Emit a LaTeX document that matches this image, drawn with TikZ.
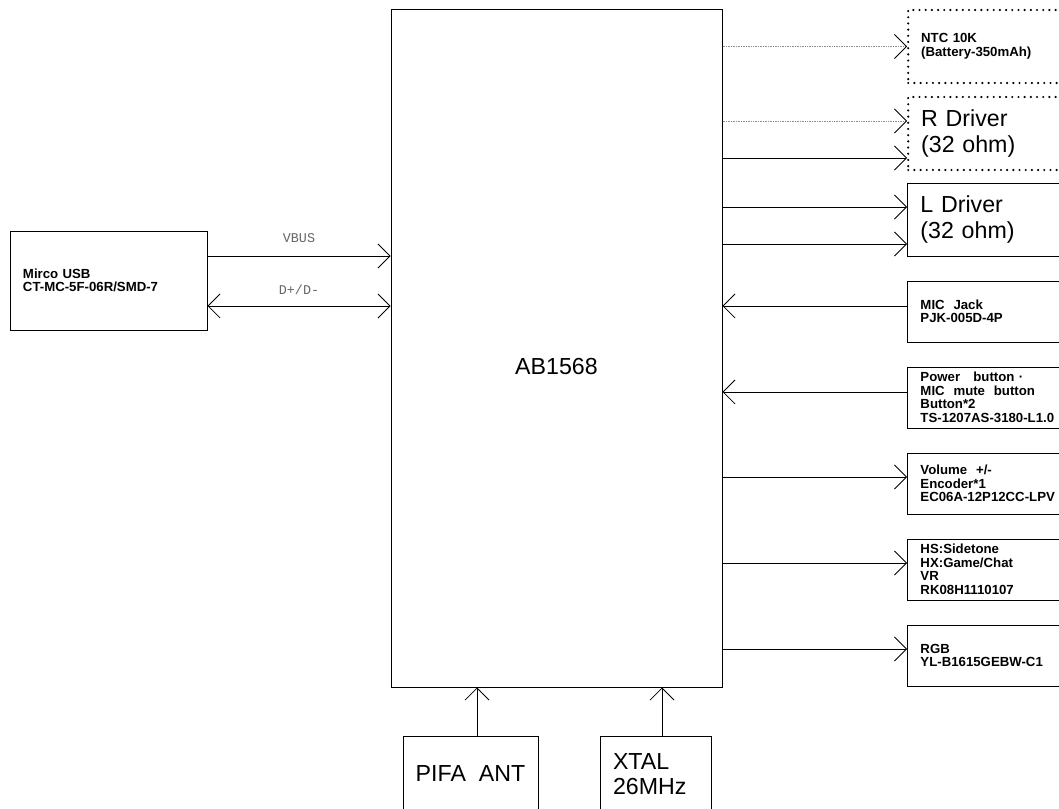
\documentclass[tikz,border=0pt]{standalone}
\usepackage{fontspec}
\setmainfont{Liberation Sans}
\setmonofont{Liberation Mono}
\usetikzlibrary{positioning,arrows.meta,calc}

\begin{document}
\begin{tikzpicture}[x=0.25mm,y=-0.25mm,
  openV/.tip={Straight Barb[length=3mm,width=6mm,line width=.6pt,color=black]},
  box/.style={draw=black,line width=.7pt,fill=white,inner sep=0pt},
  dotbox/.style={line width=1.7pt,dash pattern=on 0pt off 4.4pt,line cap=round},
  rbox/.style={box,anchor=west,align=left,text width=34.5mm,inner xsep=3.25mm,minimum height=15.25mm,
    font=\bfseries\fontsize{9.4}{9.6}\selectfont},
  big/.style={font=\fontsize{16.5}{17.8}\selectfont},
  arr/.style={arrows={-openV},line width=.7pt,draw=black},
  darr/.style={arrows={openV-openV},line width=.7pt,draw=black},
  dotarr/.style={arr,draw=black!45,line width=.5pt,dash pattern=on .6pt off .6pt},
  mono/.style={font=\ttfamily\fontsize{9.5}{11}\selectfont,text=black!60,inner sep=0pt}]
\useasboundingbox (0,0) rectangle (1059,809);
\clip (0,0) rectangle (1059,809);
\fill[white] (0,0) rectangle (1059,809);
\node[box,minimum width=49.25mm,minimum height=24.75mm,align=left,text width=42.75mm,inner xsep=3.25mm,
  font=\bfseries\fontsize{9.4}{8.8}\selectfont] (usb) at (108.5,280.5) {Mirco USB\\CT-MC-5F-06R/SMD-7};
\node[box,minimum width=82.75mm,minimum height=169.25mm,
  label={[big,yshift=-4.6mm]center:AB1568}] (chip) at (556.5,348.5) {};
\node[rbox,dotbox,minimum height=18.25mm] (ntc) at (907,46.5) {NTC 10K\\(Battery-350mAh)};
\node[rbox,dotbox,big,minimum height=18.25mm] (rdrv) at (907,133.5) {R Driver\\(32 ohm)};
\node[rbox,big,minimum height=18.25mm] (ldrv) at (907,219.5) {L Driver\\(32 ohm)};
\node[rbox] (mic) at (907,311.5) {MIC\ \ Jack\\PJK-005D-4P};
\node[rbox] (pwr) at (907,397.5) {Power\quad button ·\\MIC\ \ mute\ \ button\\Button*2\\TS-1207AS-3180-L1.0};
\node[rbox] (vol) at (907,483.5) {Volume\ \ +/-\\Encoder*1\\EC06A-12P12CC-LPV};
\node[rbox] (hs) at (907,569.5) {HS:Sidetone\\HX:Game/Chat\\VR\\RK08H1110107};
\node[rbox] (rgb) at (907,655.5) {RGB\\YL-B1615GEBW-C1};
\node[box,big,minimum width=33.75mm,minimum height=19mm] (pifa) at (470.5,774) {PIFA\ \ ANT};
\node[box,big,minimum width=27.75mm,minimum height=19mm,align=left,text width=21.25mm,inner xsep=3.25mm]
  (xtal) at (655.5,774) {XTAL\\26MHz};
\draw[arr] ($(usb.east)+(0,-24.5)$) -- node[mono,yshift=4.5mm]{VBUS} ($(chip.west |- usb.east)+(0,-24.5)$);
\draw[darr] ($(usb.east)+(0,25.5)$) -- node[mono,yshift=4mm]{D+/D-} ($(chip.west |- usb.east)+(0,25.5)$);
\draw[dotarr] (chip.east |- ntc.west) -- (ntc.west);
\draw[dotarr] ($(chip.east |- rdrv.west)+(0,-12.5)$) -- ($(rdrv.west)+(0,-12.5)$);
\draw[arr] ($(chip.east |- rdrv.west)+(0,24.5)$) -- ($(rdrv.west)+(0,24.5)$);
\draw[arr] ($(chip.east |- ldrv.west)+(0,-12.5)$) -- ($(ldrv.west)+(0,-12.5)$);
\draw[arr] ($(chip.east |- ldrv.west)+(0,24.5)$) -- ($(ldrv.west)+(0,24.5)$);
\foreach \n in {mic,pwr}
  \draw[arr] ($(\n.west)+(0,-5.5)$) -- ($(chip.east |- \n.west)+(0,-5.5)$);
\foreach \n in {vol,hs,rgb}
  \draw[arr] ($(chip.east |- \n.west)+(0,-6.5)$) -- ($(\n.west)+(0,-6.5)$);
\draw[arr] ($(pifa.north)+(6.5,0)$) -- ($(pifa.north |- chip.south)+(6.5,0)$);
\draw[arr] ($(xtal.north)+(6.5,0)$) -- ($(xtal.north |- chip.south)+(6.5,0)$);
\end{tikzpicture}
\end{document}
